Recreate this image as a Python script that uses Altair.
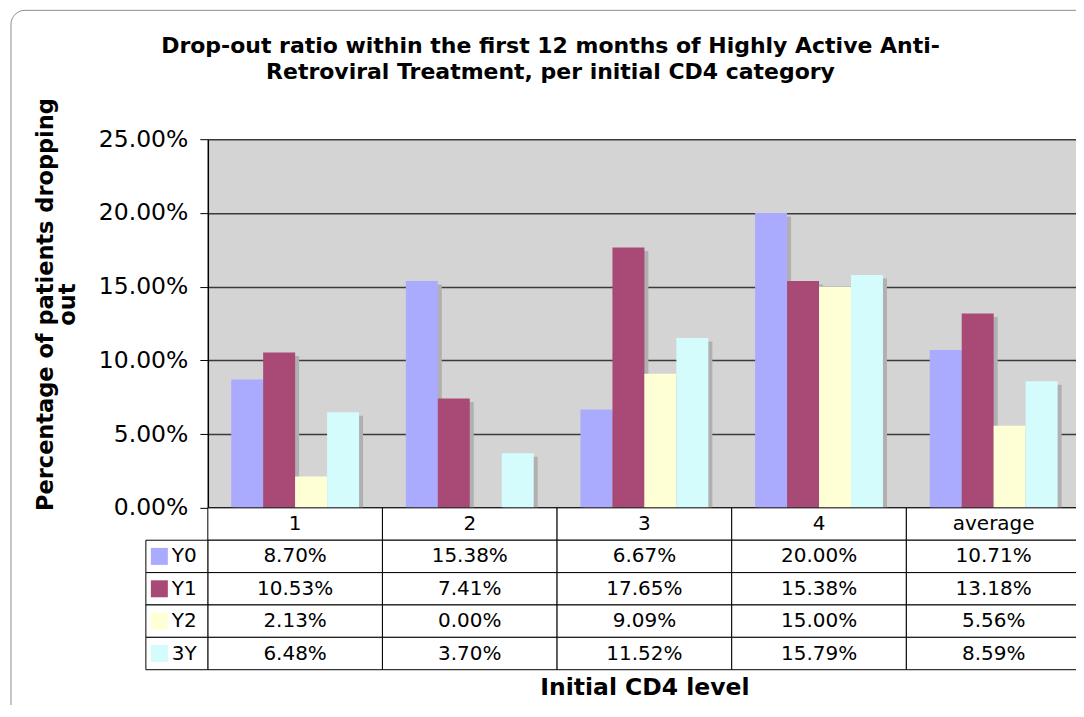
import altair as alt
import pandas as pd

FONT = "DejaVu Sans"

categories = ["1", "2", "3", "4", "average"]
series = ["Y0", "Y1", "Y2", "3Y"]
y0_vals = [8.70, 15.38, 6.67, 20.00, 10.71]
y1_vals = [10.53, 7.41, 17.65, 15.38, 13.18]
y2_vals = [2.13, 0.00, 9.09, 15.00, 5.56]
y3_vals = [6.48, 3.70, 11.52, 15.79, 8.59]
colors = ["#aaaaff", "#a94a76", "#ffffd5", "#d4fcfc"]
y_ticks = [0, 0.05, 0.10, 0.15, 0.20, 0.25]
title_lines = [
    "Drop-out ratio within the first 12 months of Highly Active Anti-",
    "Retroviral Treatment, per initial CD4 category",
]
y_title = ["Percentage of patients dropping", "out"]
x_title = "Initial CD4 level"
row_order = ["hdr"] + series

rows = []
for s, vals in zip(series, [y0_vals, y1_vals, y2_vals, y3_vals]):
    for c, v in zip(categories, vals):
        rows.append({"cat": c, "series": s, "value": v / 100.0, "label": f"{v:.2f}%"})
df = pd.DataFrame(rows)

table_rows = [{"row": "hdr", "col": c, "label": c} for c in categories]
for r in rows:
    table_rows.append({"row": r["series"], "col": r["cat"], "label": r["label"]})
tdf = pd.DataFrame(table_rows)
ldf = pd.DataFrame({"row": series})

# ---------------- bar chart ----------------
x_enc = alt.X(
    "cat:N",
    sort=categories,
    scale=alt.Scale(paddingInner=0.2677, paddingOuter=0.13385),
    axis=alt.Axis(labels=False, ticks=False, title=None, domainColor="black",
                  domainWidth=2, grid=False),
)
y_enc = alt.Y(
    "value:Q",
    scale=alt.Scale(domain=[0, 0.25], nice=False),
    axis=alt.Axis(
        values=y_ticks, format=".2%", title=y_title,
        labelFont=FONT, labelFontSize=23.5, labelColor="black", labelPadding=12,
        tickColor="black", tickSize=8, tickWidth=1,
        domainColor="black", domainWidth=1.5,
        gridColor="#3a3a3a", gridWidth=1.5,
        titleFont=FONT, titleFontSize=22.5, titleFontWeight="bold", titleColor="black",
        titlePadding=19, titleY=165, titleLineHeight=22,
    ),
)

shadow = alt.Chart(df).mark_bar(color="#b0b0b0", yOffset=3.5).encode(
    x=x_enc,
    xOffset=alt.XOffset("series:N", sort=series,
                        scale=alt.Scale(range=[4, 132], paddingInner=0, paddingOuter=0)),
    y=y_enc,
)
bars = alt.Chart(df).mark_bar().encode(
    x=x_enc,
    xOffset=alt.XOffset("series:N", sort=series,
                        scale=alt.Scale(range=[0, 128], paddingInner=0, paddingOuter=0)),
    y=y_enc,
    color=alt.Color("series:N", sort=series,
                    scale=alt.Scale(domain=series, range=colors), legend=None),
)

top = alt.layer(shadow, bars).resolve_scale(xOffset="independent").properties(
    width=874,
    height=369,
    view=alt.ViewBackground(fill="#d4d4d4", stroke=None),
    title=alt.Title(
        title_lines, font=FONT, fontSize=22, fontWeight="bold", color="black",
        anchor="middle", frame="group", dx=-94, offset=14, lineHeight=26,
    ),
)

# ---------------- data table ----------------
tx = alt.X(
    "col:N", sort=categories, scale=alt.Scale(paddingInner=0, paddingOuter=0),
    axis=alt.Axis(labels=False, ticks=False, domain=False, grid=False, title=x_title,
                  titleFont=FONT, titleFontSize=23.5, titleFontWeight="bold",
                  titleColor="black", titlePadding=6),
)
ty = alt.Y("row:N", sort=row_order, scale=alt.Scale(domain=row_order, paddingInner=0, paddingOuter=0),
           axis=None)

cells = alt.Chart(tdf).mark_rect(fill="white", stroke="black", strokeWidth=1).encode(x=tx, y=ty)
cell_text = alt.Chart(tdf).mark_text(font=FONT, fontSize=20, color="black").encode(
    x=tx, y=ty, text="label:N")

leg_cells = alt.Chart(ldf).mark_rect(fill="white", stroke="black", strokeWidth=1).encode(
    x=alt.value(-62), x2=alt.value(0), y=ty)
leg_sw = alt.Chart(ldf).mark_square(size=289, opacity=1).encode(
    x=alt.value(-48.5), y=ty,
    color=alt.Color("row:N", scale=alt.Scale(domain=series, range=colors), legend=None))
leg_txt = alt.Chart(ldf).mark_text(font=FONT, fontSize=20, color="black", align="left").encode(
    x=alt.value(-36), y=ty, text="row:N")

border = alt.Chart(pd.DataFrame({"k": [0]})).mark_rect(
    fillOpacity=0, stroke="#8c8c8c", strokeWidth=1, cornerRadius=14
).encode(x=alt.value(-197), x2=alt.value(890), y=alt.value(-498), y2=alt.value(230))

bottom = alt.layer(cells, cell_text, leg_cells, leg_sw, leg_txt, border).properties(
    width=874, height=162)

chart = alt.vconcat(top, bottom, spacing=0, bounds="flush").properties(
    padding={"left": 2, "top": 1, "right": -22, "bottom": -34}
).configure(font=FONT).configure_view(stroke=None)

chart.save("out.html", embed_options={"renderer": "svg", "actions": False})
